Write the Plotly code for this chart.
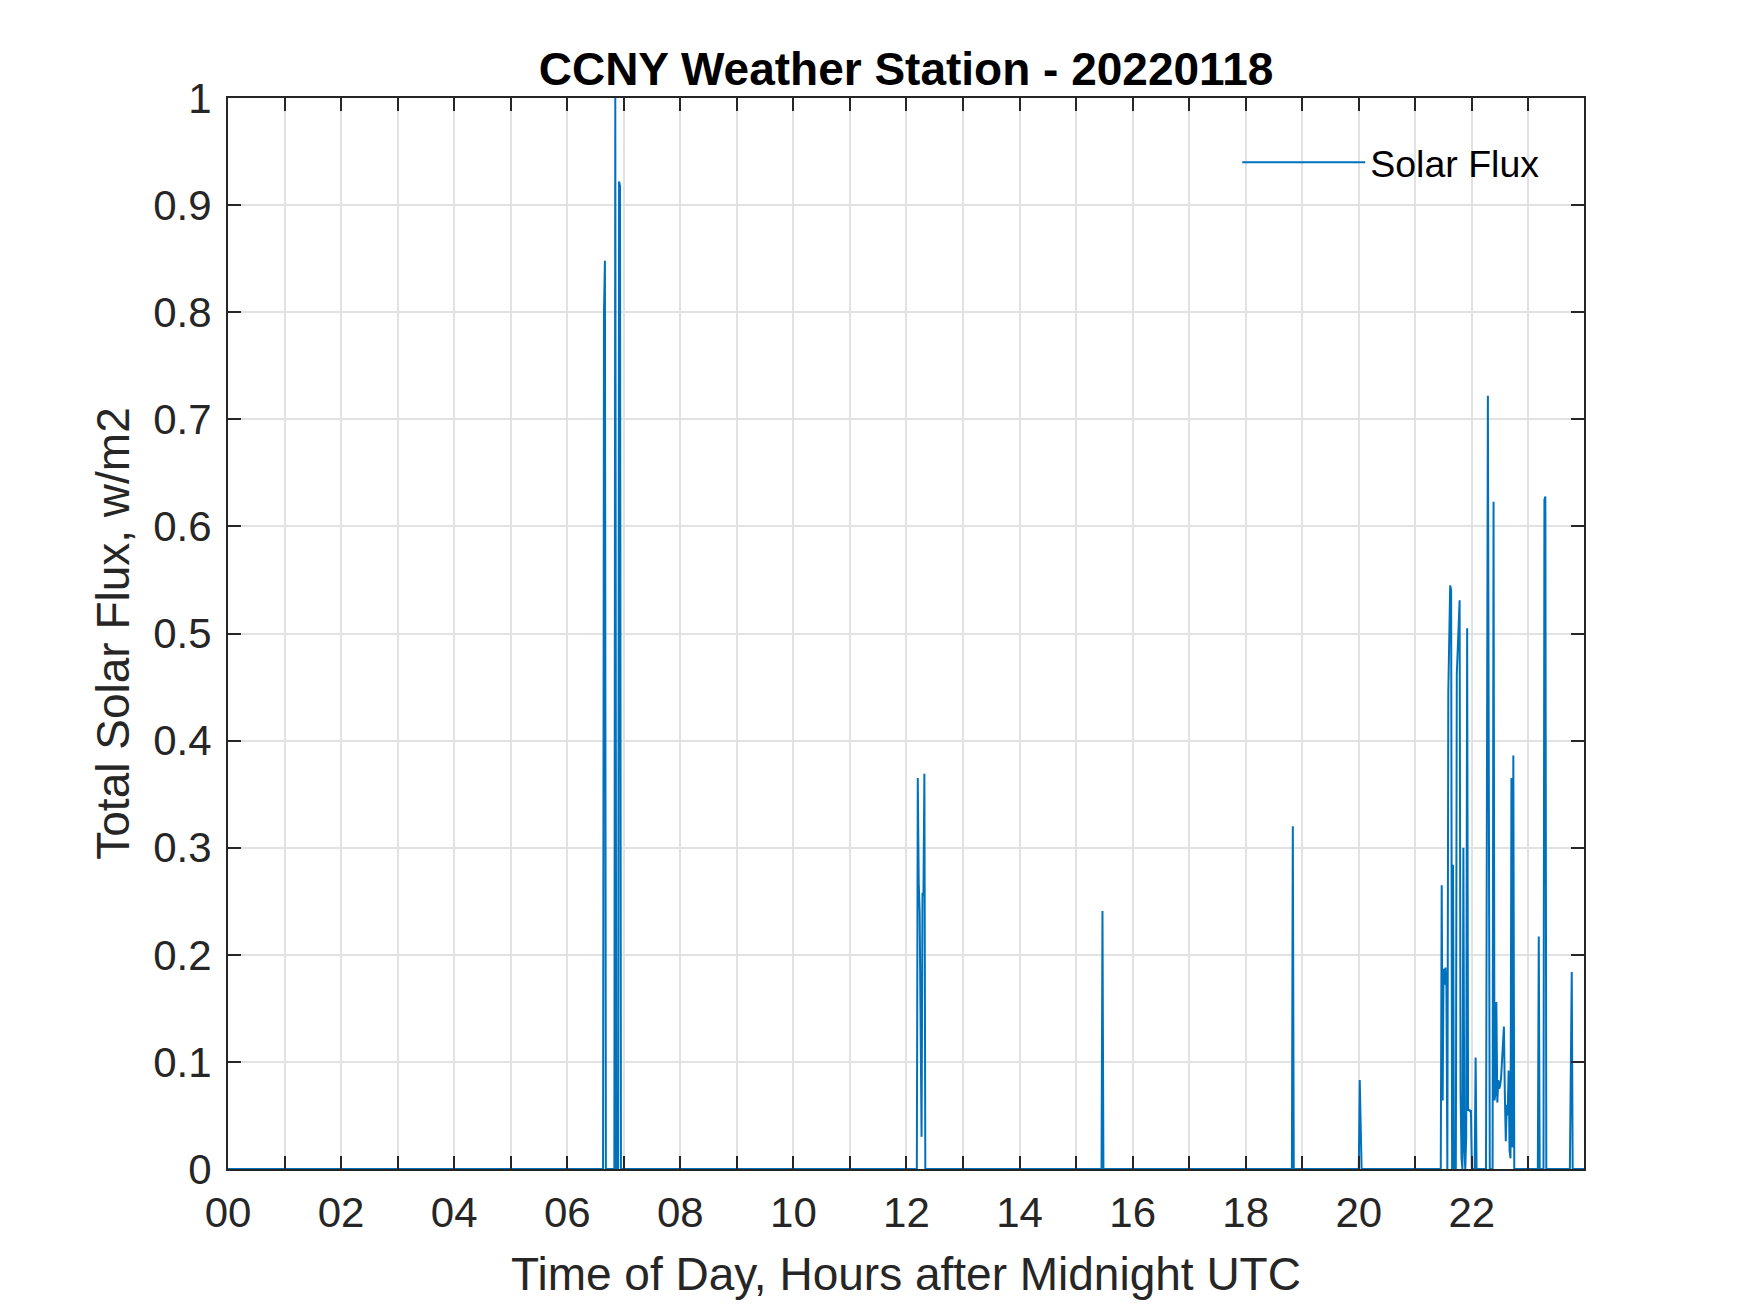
import plotly.graph_objects as go

#Day of the measurements
dayStr    = '2022-01-18'
#Time stamps (HH:MM UTC) and total solar flux in w/m2
times     = ['00:00',
             '06:38', '06:39', '06:40', '06:41',
             '06:50', '06:51', '06:52',
             '06:54', '06:55', '06:56', '06:57',
             '12:11', '12:12', '12:13', '12:14', '12:16', '12:17', '12:18', '12:19', '12:20',
             '15:27', '15:28', '15:29',
             '18:49', '18:50', '18:51',
             '20:00', '20:01', '20:02', '20:03',
             '21:27', '21:28', '21:29', '21:30', '21:31', '21:32', '21:33', '21:34',
             '21:35', '21:36', '21:37', '21:38', '21:39', '21:40', '21:41', '21:42',
             '21:43', '21:44', '21:45', '21:46', '21:47', '21:48', '21:49', '21:50',
             '21:51', '21:52', '21:53', '21:54', '21:55', '21:56', '21:57', '21:58',
             '21:59', '22:00', '22:03', '22:04', '22:05',
             '22:15', '22:17', '22:19',
             '22:22', '22:23', '22:24', '22:25', '22:26', '22:27', '22:28', '22:29',
             '22:30', '22:31', '22:32', '22:33', '22:34', '22:35', '22:36', '22:37',
             '22:38', '22:39', '22:40', '22:41', '22:42', '22:43', '22:44', '22:45',
             '23:10', '23:11', '23:12',
             '23:16', '23:17', '23:18', '23:19',
             '23:44', '23:45', '23:46', '23:47',
             '23:59']
solarFlux = [0,
             0, 0.80, 0.848, 0,
             0, 1.0, 0,
             0, 0.922, 0.918, 0,
             0, 0.365, 0.267, 0.24, 0.03, 0.258, 0.255, 0.369, 0,
             0, 0.241, 0,
             0, 0.32, 0,
             0, 0.083, 0.034, 0,
             0, 0.265, 0.064, 0.187, 0.172, 0.188, 0.17, 0,
             0.445, 0.50, 0.545, 0.54, 0, 0.284, 0, 0.02,
             0, 0.462, 0.49, 0.51, 0.531, 0.071, 0.01, 0,
             0.30, 0.02, 0, 0.03, 0.505, 0.055, 0.055, 0.054,
             0.055, 0, 0, 0.104, 0,
             0, 0.722, 0,
             0, 0.623, 0.064, 0.07, 0.156, 0.062, 0.083, 0.075,
             0.078, 0.085, 0.10, 0.115, 0.133, 0.07, 0.026, 0.06,
             0.05, 0.092, 0.017, 0.01, 0.365, 0.02, 0.386, 0,
             0, 0.217, 0,
             0, 0.625, 0.628, 0,
             0, 0.10, 0.184, 0,
             0]
#Axis tick values
yTicks    = [0, 0.1, 0.2, 0.3, 0.4, 0.5, 0.6, 0.7, 0.8, 0.9, 1]
yTickText = ['0', '0.1', '0.2', '0.3', '0.4', '0.5', '0.6', '0.7', '0.8', '0.9', '1']

lineColor = '#0072BD'
axisColor = '#262626'
gridColor = '#e2e2e2'
fontName  = 'Liberation Sans, Arial, sans-serif'
#the page body adds 8px round the figure, so the figure is that much smaller
pagePad   = 8
figW      = 1750 - pagePad
figH      = 1313 - pagePad

x = [dayStr + ' ' + t for t in times]

fig = go.Figure()
fig.add_trace(go.Scatter(x=x, y=solarFlux, mode='lines', name='Solar Flux',
                         line=dict(color=lineColor, width=2)))

fig.update_layout(
    width=figW, height=figH,
    margin=dict(l=228 - pagePad, r=166, t=98 - pagePad, b=144),
    paper_bgcolor='white', plot_bgcolor='white',
    font=dict(family=fontName, size=42, color=axisColor),
    title=dict(text='<b>CCNY Weather Station - 20220118</b>',
               font=dict(size=46, color='black'),
               x=0.5, xref='paper', xanchor='center',
               y=1 - (69 - pagePad) / figH, yref='container', yanchor='middle'),
    showlegend=True,
    legend=dict(x=0.9714, xanchor='right', y=0.94, yanchor='middle',
                bgcolor='rgba(0,0,0,0)', borderwidth=0,
                font=dict(size=37.5, color='black'), itemwidth=123),
)

fig.update_xaxes(
    type='date',
    range=[dayStr + ' 00:00', dayStr + ' 23:59'],
    dtick=2 * 3600 * 1000, tick0=dayStr + ' 00:00', tickformat='%H',
    ticks='inside', ticklen=13, tickwidth=2, tickcolor=axisColor,
    showline=True, linecolor=axisColor, linewidth=2, mirror='ticks',
    showgrid=True, gridcolor=gridColor, gridwidth=2,
    minor=dict(dtick=3600 * 1000, tick0=dayStr + ' 00:00', ticks='inside', ticklen=13,
               tickwidth=2, tickcolor=axisColor, showgrid=True, gridcolor=gridColor, gridwidth=2),
    zeroline=False, layer='above traces', ticklabelstandoff=6,
    title=dict(text='Time of Day, Hours after Midnight UTC', font=dict(size=46), standoff=22),
)

fig.update_yaxes(
    range=[0, 1], tickvals=yTicks, ticktext=yTickText,
    ticks='inside', ticklen=13, tickwidth=2, tickcolor=axisColor,
    showline=True, linecolor=axisColor, linewidth=2, mirror='ticks',
    showgrid=True, gridcolor=gridColor, gridwidth=2,
    zeroline=False, layer='above traces', ticklabelstandoff=6,
    title=dict(text='Total Solar Flux, w/m2', font=dict(size=46), standoff=9),
)

fig.write_html('out.html')
